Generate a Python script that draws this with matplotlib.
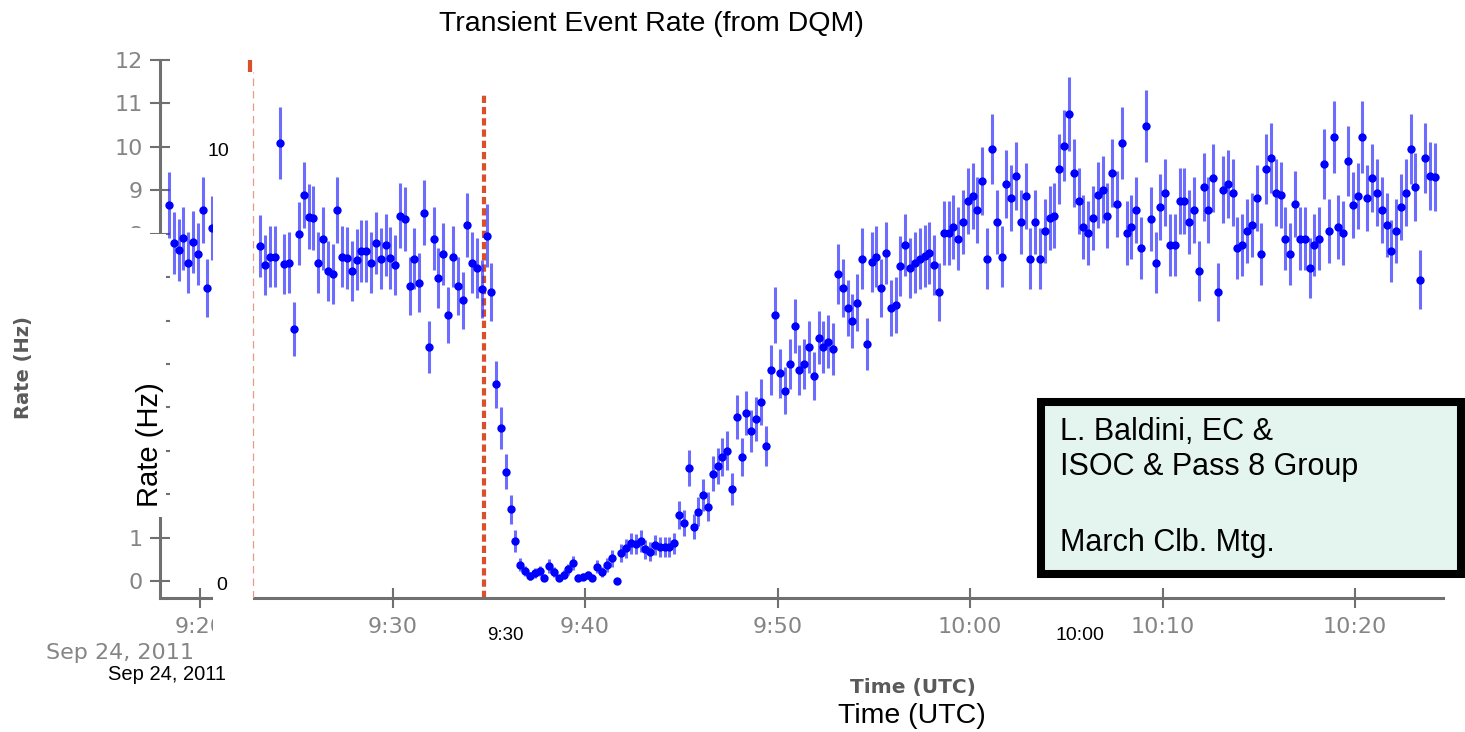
import numpy as np
import matplotlib
matplotlib.use("Agg")
import matplotlib.pyplot as plt
import matplotlib.dates as mdates
from matplotlib.patches import Rectangle
from datetime import datetime, timedelta

nan = float("nan")

# ---------------------------------------------------------------- data
first_bin_time = datetime(2011, 9, 24, 9, 18, 23)   # centre of first bin
bin_seconds = 15                                      # DQM time bin
event_time = datetime(2011, 9, 24, 9, 34, 45)         # thick red dashed marker
crop_edge_time = datetime(2011, 9, 24, 9, 22, 45)     # thin red dashed line

rate_hz = [
    8.66, 7.79, 7.63, 7.90, 7.33, 7.81, 7.53, 8.55, 6.75, 8.13, 8.09,
    nan, nan, nan, nan, nan, nan, nan, nan,            # hidden in the original
    7.72, 7.28, 7.47, 7.47, 10.09, 7.30, 7.33, 5.81, 8.00, 8.89,
    8.39, 8.36, 7.33, 7.88, 7.14, 7.07, 8.55, 7.47, 7.44, 7.14,
    7.40, 7.60, 7.60, 7.33, 7.79, 7.42, 7.74, 7.44, 7.28, 8.41,
    8.34, 6.80, 7.42, 6.87, 8.48, 5.39, 7.88, 6.98, 7.53, 6.13,
    7.47, 6.80, 6.47, 8.20, 7.33, 7.21, 6.73, 7.95, 6.66,
    4.53, 3.53, 2.52, 1.65, 0.92, 0.38, 0.23, 0.12, 0.18, 0.23,
    0.08, 0.35, 0.21, 0.06, 0.15, 0.27, 0.42, 0.08, 0.10, 0.14,
    0.06, 0.33, 0.21, 0.37, 0.52, 0.00, 0.64, 0.75, 0.87, 0.85,
    0.92, 0.73, 0.68, 0.83, 0.79, 0.78, 0.79, 0.87, 1.52, 1.33,
    2.60, 1.25, 1.60, 1.98,
    1.71, 2.47, 2.65, 2.86, 3.00, 2.12, 3.78, 2.86, 3.87, 3.46,
    3.73, 4.12, 3.11, 4.86, 6.13, 4.79, 4.38, 5.00, 5.88, 4.86,
    5.00, 5.39, 4.72, 5.60, 5.39, 5.51, 5.35, 7.07, 6.75, 6.29,
    5.99, 6.41, 7.42, 5.46, 7.35, 7.47, 6.75, 7.56, 6.29,
    6.36, 7.26, 7.74, 7.21, 7.33, 7.42, 7.49, 7.56, 7.28, 6.66,
    8.02, 8.02, 8.16, 7.88, 8.27, 8.76, 8.87, 8.55, 9.22, 7.42,
    9.95, 8.27, 7.47, 9.15, 8.82, 9.33, 8.27, 8.87, 7.42, 8.27,
    7.42, 8.06, 8.36, 8.41, 9.49, 10.02, 10.76, 9.40, 8.76, 8.16,
    8.02, 8.36, 8.89, 9.01, 8.41, 9.40, 8.69, 10.09, 8.02, 8.16,
    8.55, 7.67, 10.48, 8.34, 7.33,
    8.62, 8.94, 7.74, 7.74, 8.76, 8.76, 8.27, 8.55, 7.14, 9.08,
    8.55, 9.29, 6.66, 9.01, 9.15, 8.94, 7.67, 7.74, 8.06, 8.20,
    8.82, 7.53, 9.49, 9.75, 8.94, 8.89, 7.88, 7.53, 8.69, 7.88,
    7.88, 7.21, 7.74, 7.88, 9.61, 8.06, 10.23, 8.16, 8.02, 9.68,
    8.66, 8.87, 10.23, 8.82, 9.29, 8.94, 8.55, 8.20, 7.60, 8.06,
    8.62, 8.94, 9.95, 9.08, 6.94, 9.75, 9.33, 9.31,
]

y_ticks = list(range(0, 13))
# labels 2..7 are cut away in the original picture
y_tick_labels = ["0", "1", "", "", "", "", "", "", "8", "9", "10", "11", "12"]
title_text = "Transient Event Rate (from DQM)"
note_lines = ["L. Baldini, EC &", "ISOC & Pass 8 Group", "", "March Clb. Mtg."]

# ------------------------------------------------------------- derived
times = [first_bin_time + timedelta(seconds=bin_seconds * i) for i in range(len(rate_hz))]
rate = np.array(rate_hz)
rate_err = np.sqrt(rate * bin_seconds) / bin_seconds     # counting statistics

# -------------------------------------------------------------- figure
W, H = 1465, 732
fig = plt.figure(figsize=(W / 100, H / 100), dpi=100)
fig.patch.set_facecolor("white")

def fx(px):
    return px / W

def fy(py):
    return 1 - py / H

ax = fig.add_axes([fx(160), fy(598), fx(1443) - fx(160), fy(60) - fy(598)])

ax.vlines(event_time, -0.39, 11.27, colors="#d9502a", linewidth=3.0,
          linestyles=(0, (1.75, 0.95)), zorder=1)

ax.errorbar(times, rate, yerr=rate_err, fmt="o", color="#0000ff", ms=6,
            mew=0, ecolor=(0.2, 0.2, 1.0, 0.72), elinewidth=2.2, capsize=0,
            zorder=2)

ax.set_xlim(datetime(2011, 9, 24, 9, 17, 55), datetime(2011, 9, 24, 10, 24, 34))
ax.set_ylim(-0.39, 12)
ax.set_yticks(y_ticks)
ax.set_yticklabels(y_tick_labels)
ax.xaxis.set_major_locator(mdates.MinuteLocator(byminute=[0, 10, 20, 30, 40, 50]))
ax.xaxis.set_major_formatter(mdates.DateFormatter("%-H:%M"))

for s in ("top", "right"):
    ax.spines[s].set_visible(False)
for s in ("left", "bottom"):
    ax.spines[s].set_color("#707070")
    ax.spines[s].set_linewidth(2.2)

ax.tick_params(direction="inout", length=14.4, width=1.5, color="#707070",
               labelcolor="#858585", labelsize=16)
ax.tick_params(axis="x", pad=6.5)
ax.tick_params(axis="y", pad=5)

ax.set_xlabel("Time (UTC)", fontsize=14.5, fontweight="bold", color="#5a5a5a")
ax.xaxis.set_label_coords((913 - 160) / 1283, (598 - 687) / 538)
ax.xaxis.label.set_verticalalignment("center")
ax.set_ylabel("Rate (Hz)", fontsize=14, fontweight="bold", color="#5a5a5a")
ax.yaxis.set_label_coords((24 - 160) / 1283, (598 - 368) / 538)
ax.yaxis.label.set_verticalalignment("center")

# gray date label of the original screenshot
fig.text(fx(120), fy(653), "Sep 24, 2011", ha="center", va="center",
         fontsize=16, color="#858585")

# white cut-outs of the original picture
for (x0, y0, x1, y1) in [(213, 0, 253, 652), (40, 228, 150, 517), (150, 234, 166, 517)]:
    ax.add_patch(Rectangle((fx(x0), fy(y1)), fx(x1) - fx(x0), fy(y0) - fy(y1),
                           transform=fig.transFigure, facecolor="white",
                           edgecolor="none", clip_on=False, zorder=3))

ax.vlines(crop_edge_time, -0.39, 11.73, colors="#e89a88", linewidth=0.9,
          linestyles=(0, (6, 4)), zorder=4)
ax.vlines(datetime(2011, 9, 24, 9, 22, 36), 11.73, 12.0, colors="#d9502a",
          linewidth=3.0, zorder=4)

# ------------------------------------------------------ overlay texts
font = "Liberation Sans"
fig.text(fx(651), fy(24), title_text, ha="center", va="center",
         fontsize=20.5, family=font, color="black")
fig.text(fx(218), fy(151), "10", ha="center", va="center", fontsize=14, family=font)
fig.text(fx(222), fy(585), "0", ha="center", va="center", fontsize=14, family=font)
fig.text(fx(150), fy(445), "Rate (Hz)", ha="center", va="center", rotation=90,
         fontsize=21, family=font)
fig.text(fx(505), fy(636), "9:30", ha="center", va="center", fontsize=13.5, family=font)
fig.text(fx(1080), fy(636), "10:00", ha="center", va="center", fontsize=14, family=font)
fig.text(fx(167), fy(674), "Sep 24, 2011", ha="center", va="center",
         fontsize=14.5, family=font)
fig.text(fx(912), fy(716), "Time (UTC)", ha="center", va="center",
         fontsize=20.5, family=font)

# note box
fig.add_artist(Rectangle((fx(1041), fy(574)), fx(1461) - fx(1041), fy(402) - fy(574),
                         transform=fig.transFigure, facecolor="#e4f4ee",
                         edgecolor="black", linewidth=5.8, zorder=2))
line_y = [432, 467, 505, 543]
for txt, yy in zip(note_lines, line_y):
    if txt:
        fig.text(fx(1060), fy(yy), txt, ha="left", va="center",
                 fontsize=22, family=font, zorder=4)

fig.savefig("out.png", dpi=100)
